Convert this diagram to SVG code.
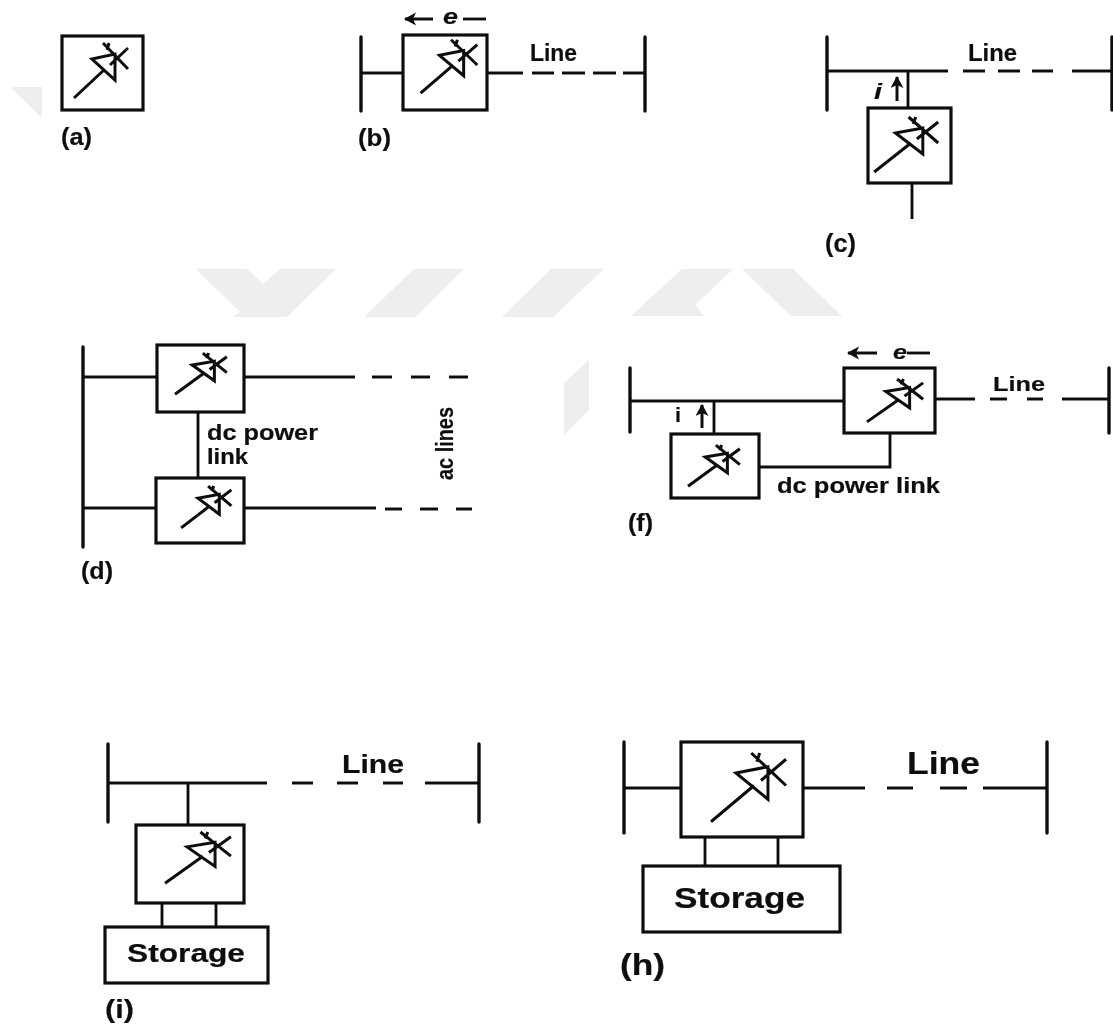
<svg xmlns="http://www.w3.org/2000/svg" width="1113" height="1025" viewBox="0 0 1113 1025">
<style>
.box{fill:none;stroke:#111;stroke-width:3.2}
.sym{fill:none;stroke:#111;stroke-width:3;stroke-linejoin:miter;vector-effect:non-scaling-stroke}
.bus{fill:none;stroke:#111;stroke-width:3.4;stroke-linecap:round}
.wire{fill:none;stroke:#111;stroke-width:2.8}
.ar{fill:none;stroke:#111;stroke-width:3;marker-end:url(#head)}
.wm{fill:#eeeeee}
text{font-family:"Liberation Sans",Arial,sans-serif;font-weight:700;fill:#111;stroke:#111;stroke-width:.2}
.it{font-style:italic}
</style>
<defs>
<marker id="head" markerUnits="userSpaceOnUse" markerWidth="14" markerHeight="14" refX="11" refY="6.5" orient="auto">
<path d="M0 0L12 6.5L0 13L3 6.5Z" fill="#111"/>
</marker>
<filter id="soft" x="-2%" y="-2%" width="104%" height="104%"><feGaussianBlur stdDeviation="0.55"/></filter>
<g id="thy">
<path class="sym" d="M12 62L43 33M30 23L53 18V44ZM41 7L66 33M66 12L48 29M47 7L45 14"/>
</g>
</defs>
<g id="watermark">
<path class="wm" d="M10 87H42V118Z"/>
<path class="wm" d="M196 269H247L263 284L280 269H336L287 317H233L240 312Z"/>
<path class="wm" d="M414 269H464L416 317H364Z"/>
<path class="wm" d="M551 269H604L553 317H502Z"/>
<path class="wm" d="M682 269H733L695 305L704 316H631Z"/>
<path class="wm" d="M742 269H793L842 316H791Z"/>
<path class="wm" d="M564 383L589 360V410L564 435Z"/>
</g>
<g filter="url(#soft)">
<g id="connectors">
<path class="bus" d="M361 37V111M645 37V111M827 37V110M1112 37V110M83 347V547M630 368V432M1109 368V433M108 744V822M479 744V822M624 742V833M1047 742V833"/>
<path class="wire" d="M361 73H403M487 73H523M532 73H554M562 73H585M593 73H616M623 73H645"/>
<path class="wire" d="M827 71H948M963 71H985M998 71H1020M1032 71H1053M1072 71H1112M908 71V108M912 183V219"/>
<path class="wire" d="M83 377H157M244 377H355M372 377H392M411 377H430M449 377H468M83 508H156M244 508H376M385 509H402M420 509H438M456 509H472M198 412V478"/>
<path class="wire" d="M630 401H844M935 399H975M990 399H1007M1027 399H1043M1062 399H1109M714 401V434M759 467H890V433"/>
<path class="wire" d="M108 783H267M292 783H313M337 783H358M383 783H403M425 783H479M188 783V825M162 903V927M216 903V927"/>
<path class="wire" d="M624 788H681M803 788H865M887 788H913M940 788H967M983 788H1047M705 837V866M778 837V866"/>
<path class="ar" d="M433 19H405"/>
<path class="wire" d="M463 19H486"/>
<path class="ar" d="M897 101V77"/>
<path class="ar" d="M702 428V405"/>
<path class="ar" d="M877 353H848"/>
<path class="wire" d="M907 353H930"/>
</g>
<g id="node-a">
<rect class="box" x="62" y="36" width="81" height="74"/>
<use href="#thy" transform="translate(62 36)"/>
<text x="61" y="145" font-size="24" textLength="31" lengthAdjust="spacingAndGlyphs">(a)</text>
</g>
<g id="node-b">
<rect class="box" x="403" y="35" width="84" height="75"/>
<use href="#thy" transform="translate(408 33) scale(1.05 .97)"/>
<text x="443" y="24" font-size="22" class="it" textLength="15" lengthAdjust="spacingAndGlyphs">e</text>
<text x="530" y="61" font-size="23" textLength="47" lengthAdjust="spacingAndGlyphs">Line</text>
<text x="358" y="146" font-size="24" textLength="33" lengthAdjust="spacingAndGlyphs">(b)</text>
</g>
<g id="node-c">
<rect class="box" x="868" y="108" width="83" height="75"/>
<use href="#thy" transform="translate(860 110) scale(1.185 1)"/>
<text x="874" y="99" font-size="22" class="it" textLength="8" lengthAdjust="spacingAndGlyphs">i</text>
<text x="968" y="61" font-size="24" textLength="49" lengthAdjust="spacingAndGlyphs">Line</text>
<text x="825" y="252" font-size="25" textLength="31" lengthAdjust="spacingAndGlyphs">(c)</text>
</g>
<g id="node-d1">
<rect class="box" x="157" y="345" width="87" height="67"/>
<use href="#thy" transform="translate(163.5 347.8) scale(.96 .75)"/>
</g>
<g id="node-d2">
<rect class="box" x="156" y="478" width="88" height="65"/>
<use href="#thy" transform="translate(170 480.7) scale(.93 .76)"/>
</g>
<g id="labels-d">
<text x="207" y="440" font-size="22" textLength="111" lengthAdjust="spacingAndGlyphs">dc power</text>
<text x="207" y="464" font-size="22" textLength="41" lengthAdjust="spacingAndGlyphs">link</text>
<text transform="translate(453 480) rotate(-90)" font-size="23" textLength="73" lengthAdjust="spacingAndGlyphs">ac lines</text>
<text x="81" y="579" font-size="24" textLength="32" lengthAdjust="spacingAndGlyphs">(d)</text>
</g>
<g id="node-f1">
<rect class="box" x="671" y="434" width="88" height="64"/>
<use href="#thy" transform="translate(676.5 439.8) scale(.96 .75)"/>
</g>
<g id="node-f2">
<rect class="box" x="844" y="368" width="91" height="65"/>
<use href="#thy" transform="translate(854.5 373.5) scale(1.04 .78)"/>
</g>
<g id="labels-f">
<text x="675" y="422" font-size="21" textLength="6" lengthAdjust="spacingAndGlyphs">i</text>
<text x="893" y="359" font-size="21" class="it" textLength="14" lengthAdjust="spacingAndGlyphs">e</text>
<text x="993" y="391" font-size="21" textLength="52" lengthAdjust="spacingAndGlyphs">Line</text>
<text x="777" y="493" font-size="22" textLength="163" lengthAdjust="spacingAndGlyphs">dc power link</text>
<text x="628" y="531" font-size="23" textLength="25" lengthAdjust="spacingAndGlyphs">(f)</text>
</g>
<g id="node-i">
<rect class="box" x="136" y="825" width="108" height="78"/>
<use href="#thy" transform="translate(150.4 825.5) scale(1.22 .93)"/>
<text x="342" y="773" font-size="25" textLength="62" lengthAdjust="spacingAndGlyphs">Line</text>
<text x="105" y="1018" font-size="26" textLength="29" lengthAdjust="spacingAndGlyphs">(i)</text>
</g>
<g id="node-i-storage">
<rect class="box" x="105" y="927" width="163" height="56"/>
<text x="127" y="962" font-size="26" textLength="118" lengthAdjust="spacingAndGlyphs">Storage</text>
</g>
<g id="node-h">
<rect class="box" x="681" y="742" width="122" height="95"/>
<use href="#thy" transform="translate(694.3 744.25) scale(1.39 1.25)"/>
<text x="907" y="774" font-size="31" textLength="73" lengthAdjust="spacingAndGlyphs">Line</text>
<text x="620" y="975" font-size="30" textLength="45" lengthAdjust="spacingAndGlyphs">(h)</text>
</g>
<g id="node-h-storage">
<rect class="box" x="643" y="866" width="197" height="66"/>
<text x="674" y="908" font-size="29" textLength="131" lengthAdjust="spacingAndGlyphs">Storage</text>
</g>
</g>
</svg>
